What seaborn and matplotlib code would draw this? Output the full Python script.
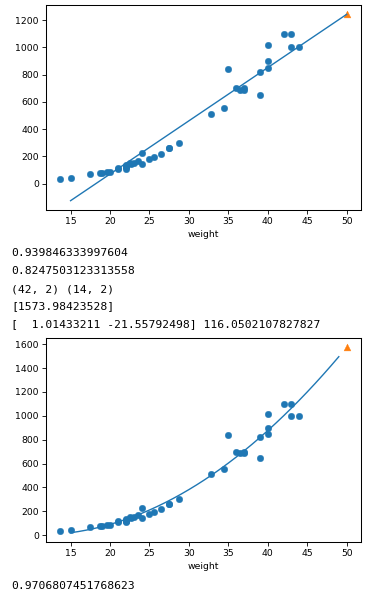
import numpy as np
import pandas as pd
import matplotlib
matplotlib.use("Agg")
import matplotlib.pyplot as plt
import seaborn as sns

# training data (length on x, weight on y)
train_x = [19.6, 22.0, 18.7, 17.4, 36.0, 25.0, 40.0, 39.0, 43.0, 22.0, 20.0, 22.0, 24.0, 27.5,
           43.0, 40.0, 24.0, 21.0, 27.5, 40.0, 32.8, 26.5, 36.5, 13.7, 22.7, 15.0, 37.0, 35.0,
           28.7, 23.5, 39.0, 21.0, 23.0, 22.0, 44.0, 22.5, 19.0, 37.0, 22.0, 25.6, 42.0, 34.5]
train_y = [85.0, 135.0, 78.0, 70.0, 700.0, 180.0, 850.0, 820.0, 1000.0, 120.0, 85.0, 130.0, 225.0, 260.0,
           1100.0, 900.0, 145.0, 115.0, 265.0, 1015.0, 514.0, 218.0, 685.0, 32.0, 145.0, 40.0, 690.0, 840.0,
           300.0, 170.0, 650.0, 110.0, 150.0, 110.0, 1000.0, 150.0, 80.0, 700.0, 120.0, 197.0, 1100.0, 556.0]

# linear model
lin_coef = 39.01714496
lin_intercept = -709.0186449
lin_x = [15, 50]
new_x = 50
lin_pred = 1241.83860323

# polynomial model
poly_coef = [1.01433211, -21.55792498]
poly_intercept = 116.0502107827827
poly_start, poly_stop = 15, 50
poly_pred = 1573.98423528

out_lines = [
    "0.939846333997604",
    "0.8247503123313558",
    "(42, 2) (14, 2)",
    "[1573.98423528]",
    "[  1.01433211 -21.55792498] 116.0502107827827",
]
final_line = "0.9706807451768623"

C0 = "#1f77b4"
C1 = "#ff7f0e"

plt.rcParams.update({
    "font.size": 6.7,
    "axes.linewidth": 0.75,
    "xtick.major.width": 0.6,
    "ytick.major.width": 0.6,
    "xtick.major.size": 2.6,
    "ytick.major.size": 2.6,
    "xtick.major.pad": 2.5,
    "ytick.major.pad": 2.5,
})

fig = plt.figure(figsize=(3.67, 5.95), dpi=100)
W, H = 367, 595

def add_ax(left, top, right, bottom):
    return fig.add_axes([left / W, 1 - bottom / H, (right - left) / W, (bottom - top) / H])

df = pd.DataFrame({"weight": train_x, "y": train_y})

# top chart
ax1 = add_ax(46, 5, 361, 210)
sns.scatterplot(data=df, x="weight", y="y", ax=ax1, color=C0, s=22, edgecolor=C0, linewidth=0.3)
lx = np.array(lin_x, dtype=float)
sns.lineplot(x=lx, y=lin_coef * lx + lin_intercept, ax=ax1, color=C0, linewidth=1.0)
sns.scatterplot(x=[new_x], y=[lin_pred], ax=ax1, color=C1, marker="^", s=24, edgecolor=C1, linewidth=0.3)
ax1.set_ylabel("")
ax1.set_xlabel("weight", labelpad=3)
ax1.set_xticks([15, 20, 25, 30, 35, 40, 45, 50])
ax1.set_yticks([0, 200, 400, 600, 800, 1000, 1200])

# printed output
text_y = [253, 271, 289, 306, 324]
for s, py in zip(out_lines, text_y):
    fig.text(11 / W, 1 - py / H, s, family="DejaVu Sans Mono", fontsize=8.2, va="center", ha="left")

# bottom chart
ax2 = add_ax(46, 338, 361, 542)
px = np.arange(poly_start, poly_stop).astype(float)
sns.scatterplot(data=df, x="weight", y="y", ax=ax2, color=C0, s=22, edgecolor=C0, linewidth=0.3)
sns.lineplot(x=px, y=poly_coef[0] * px ** 2 + poly_coef[1] * px + poly_intercept, ax=ax2, color=C0, linewidth=1.0)
sns.scatterplot(x=[new_x], y=[poly_pred], ax=ax2, color=C1, marker="^", s=24, edgecolor=C1, linewidth=0.3)
ax2.set_ylabel("")
ax2.set_xlabel("weight", labelpad=3)
ax2.set_xticks([15, 20, 25, 30, 35, 40, 45, 50])
ax2.set_yticks([0, 200, 400, 600, 800, 1000, 1200, 1400, 1600])

fig.text(11 / W, 1 - 586 / H, final_line, family="DejaVu Sans Mono", fontsize=8.2, va="center", ha="left")

fig.savefig("out.png", dpi=100)
